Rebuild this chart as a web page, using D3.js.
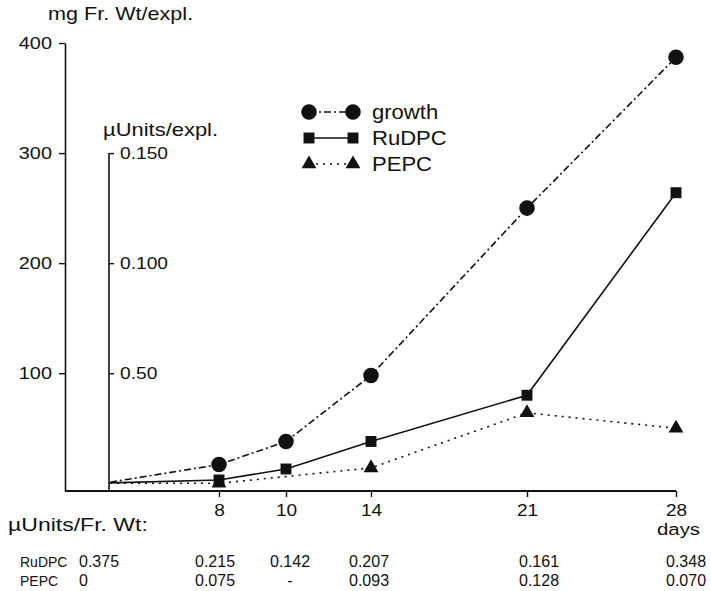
<!DOCTYPE html>
<html><head><meta charset="utf-8">
<script src="https://cdn.jsdelivr.net/npm/d3@7"></script>
<style>
body{margin:0;background:#fff}
text{font-family:"Liberation Sans",Arial,Helvetica,sans-serif;fill:#111}
</style>
</head><body>
<svg id="c" width="711" height="591"></svg>
<script>
// ---- data ----
const days = [0, 8, 10, 14, 21, 28];
const growth = [1, 17, 38, 98, 250, 387];                     // mg Fr. Wt/expl.
const rudpc = [0.0002, 0.0015, 0.0065, 0.019, 0.040, 0.132];  // µUnits/expl.
const pepcDays = [0, 8, 14, 21, 28];
const pepc = [0, 0, 0.007, 0.032, 0.025];                     // µUnits/expl.
const markerDays = [8, 10, 14, 21, 28];
const leftTicks = [100, 200, 300, 400];
const rightTicks = [0.05, 0.10, 0.15];
const rightTickLabels = ["0.50", "0.100", "0.150"];
const dayTicks = [8, 10, 14, 21, 28];
const seriesNames = ["growth", "RuDPC", "PEPC"];
const tableRowNames = ["RuDPC", "PEPC"];
const rudpcPerFw = ["0.375", "0.215", "0.142", "0.207", "0.161", "0.348"];
const pepcPerFw = ["0", "0.075", "-", "0.093", "0.128", "0.070"];

// ---- scales ----
const svg = d3.select("#c");
const x = d3.scaleLinear().domain(days).range([110, 219, 286, 371, 527, 676]);
const y = d3.scaleLinear().domain([-7, 400]).range([491, 43]);
const y2 = d3.scaleLinear().domain([-0.0035, 0.2]).range([491, 43]);

const axisX0 = 65, innerX = 109, baseY = 491, xEnd = 676;
const ink = "#111";

// stretched text helper (the original lettering is wide)
function label(g, px, py, str, size, sx, anchor) {
  return g.append("text")
    .attr("transform", `translate(${px},${py}) scale(${sx},1)`)
    .attr("font-size", size).attr("text-anchor", anchor || "start").text(str);
}
function stretchTicks(g, sx) {
  g.selectAll(".tick text").each(function () {
    const t = d3.select(this);
    const tx = +t.attr("x") || 0, ty = +t.attr("y") || 0;
    t.attr("x", null).attr("y", null)
     .attr("transform", `translate(${tx},${ty}) scale(${sx},1)`);
  });
}

// left axis
const gl = svg.append("g").attr("transform", `translate(${axisX0},0)`)
  .call(d3.axisLeft(y).tickValues(leftTicks).tickSize(6).tickSizeOuter(0).tickPadding(7));
gl.select(".domain").attr("stroke", ink).attr("stroke-width", 1.6);
gl.selectAll(".tick line").attr("stroke", ink).attr("stroke-width", 1.4);
gl.selectAll(".tick text").attr("font-size", 17).attr("font-family", null).attr("fill", ink);
stretchTicks(gl, 1.17);

// right (inner) axis
const gr = svg.append("g").attr("transform", `translate(${innerX},0)`)
  .call(d3.axisRight(y2).tickValues(rightTicks).tickSize(5)
    .tickFormat((d, i) => rightTickLabels[i]).tickPadding(6));
gr.select(".domain").remove();
gr.append("line").attr("y1", y2(0.15)).attr("y2", baseY).attr("stroke", ink).attr("stroke-width", 1.6);
gr.selectAll(".tick line").attr("stroke", ink).attr("stroke-width", 1.4);
gr.selectAll(".tick text").attr("font-size", 16).attr("font-family", null).attr("fill", ink);
stretchTicks(gr, 1.2);

// x axis
const gx = svg.append("g").attr("transform", `translate(0,${baseY})`)
  .call(d3.axisBottom(x).tickValues(dayTicks).tickSize(6).tickPadding(7));
gx.select(".domain").remove();
gx.append("line").attr("x1", axisX0).attr("x2", xEnd).attr("stroke", ink).attr("stroke-width", 1.8);
gx.selectAll(".tick line").attr("stroke", ink).attr("stroke-width", 1.4);
gx.selectAll(".tick text").attr("font-size", 17).attr("font-family", null).attr("fill", ink);
stretchTicks(gx, 1.12);

// axis titles
label(svg, 48, 20, "mg Fr. Wt/expl.", 18, 1.2);
label(svg, 103, 136, "µUnits/expl.", 18, 1.22);
label(svg, 657, 535, "days", 17, 1.2);

// ---- series ----
const styles = [
  {dash: "7,3,2,3"},
  {dash: null},
  {dash: "2,5"}
];
const seriesData = [
  days.map((d, i) => [d, y(growth[i])]),
  days.map((d, i) => [d, y2(rudpc[i])]),
  pepcDays.map((d, i) => [d, y2(pepc[i])])
];
const line = d3.line().x(d => x(d[0])).y(d => d[1]);
seriesData.forEach((s, k) => {
  svg.append("path").attr("d", line(s)).attr("fill", "none")
    .attr("stroke", ink).attr("stroke-width", 1.6)
    .attr("stroke-dasharray", styles[k].dash);
});

const symbols = [d3.symbolCircle, d3.symbolSquare, d3.symbolTriangle];
const symSizes = [190, 120, 95];
function marker(g, k, px, py) {
  g.append("path").attr("d", d3.symbol().type(symbols[k]).size(symSizes[k])())
    .attr("transform", `translate(${px},${py})`).attr("fill", ink);
}
seriesData.forEach((s, k) => {
  s.filter(d => markerDays.includes(d[0])).forEach(d => marker(svg, k, x(d[0]), d[1]));
});

// ---- legend ----
const lg = svg.append("g");
seriesNames.forEach((n, k) => {
  const ly = 112 + k * 26;
  lg.append("line").attr("x1", 309).attr("x2", 353).attr("y1", ly).attr("y2", ly)
    .attr("stroke", ink).attr("stroke-width", 1.6).attr("stroke-dasharray", styles[k].dash);
  marker(lg, k, 309, ly);
  marker(lg, k, 353, ly);
  label(lg, 372, ly + 7, n, 21, 1.05);
});

// ---- table ----
label(svg, 8, 531, "µUnits/Fr. Wt:", 18, 1.28);
const colShift = [0, -4, 4, -2, 12, 10];
[rudpcPerFw, pepcPerFw].forEach((row, r) => {
  const ty = 567 + r * 19;
  label(svg, 20, ty, tableRowNames[r], 14, 1.0);
  row.forEach((v, i) => {
    if (i === 0) label(svg, x(days[i]) - 31, ty, v, 16, 1.0, "start");
    else label(svg, x(days[i]) + colShift[i], ty, v, 16, 1.0, "middle");
  });
});
</script>
</body></html>
